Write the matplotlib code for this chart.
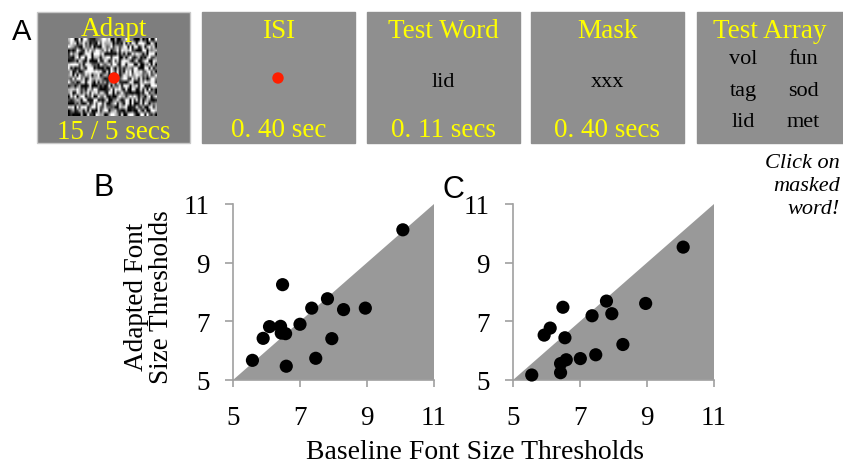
import numpy as np
import matplotlib
matplotlib.use("Agg")
import matplotlib.pyplot as plt
from matplotlib.patches import Rectangle, Circle, Polygon

plt.rcParams['font.family'] = ['Liberation Serif', 'DejaVu Serif']

# Data
baseline_b = [5.58, 5.90, 6.09, 6.42, 6.44, 6.57, 6.48, 6.59, 7.00, 7.35, 7.47, 7.82, 7.95, 8.30, 8.95, 10.07]
adapted_b = [5.67, 6.42, 6.82, 6.83, 6.60, 6.58, 8.25, 5.47, 6.90, 7.45, 5.74, 7.77, 6.41, 7.40, 7.45, 10.12]
baseline_c = [5.56, 5.93, 6.11, 6.42, 6.42, 6.49, 6.55, 6.59, 7.01, 7.36, 7.47, 7.79, 7.95, 8.28, 8.96, 10.08]
adapted_c = [5.17, 6.53, 6.77, 5.56, 5.25, 7.48, 6.44, 5.69, 5.73, 7.19, 5.86, 7.69, 7.26, 6.21, 7.61, 9.53]
axis_ticks = [5, 7, 9, 11]

# Trial sequence text
stage_titles = ["Adapt", "ISI", "Test Word", "Mask", "Test Array"]
stage_times = ["15 / 5 secs", "0. 40 sec", "0. 11 secs", "0. 40 secs"]
test_word = "lid"
mask_word = "xxx"
array_words = [["vol", "fun"], ["tag", "sod"], ["lid", "met"]]

W, H = 843, 464
fig = plt.figure(figsize=(W / 100, H / 100), dpi=100)

# Overlay axis in pixel coordinates for panel A and labels
ax_a = fig.add_axes([0, 0, 1, 1])
ax_a.axis("off")

yellow = "#ffff00"
red = "#ff1e00"
box_lefts = [37, 202, 367, 531, 697]
box_widths = [153, 153, 153, 153, 146]
for i, (x0, bw) in enumerate(zip(box_lefts, box_widths)):
    face = "#7e7e7e" if i == 0 else "#8f8f8f"
    edge = "#c8c8c8" if i == 0 else face
    ax_a.add_patch(Rectangle((x0, 13), bw, 131, facecolor=face, edgecolor=edge, lw=1))
    cx = x0 + bw / 2
    ax_a.text(cx, 36 if i == 0 else 37.5, stage_titles[i], color=yellow, fontsize=19.5,
              ha="center", va="baseline")
    if i < 4:
        ax_a.text(cx, 139 if i == 0 else 137.5, stage_times[i], color=yellow, fontsize=19.5,
                  ha="center", va="baseline")

# Adapting noise texture (visual stimulus only)
rng = np.random.default_rng(7)
noise = np.clip((rng.random((22, 42)) - 0.5) * 1.7 + 0.5, 0, 1)
ax_a.imshow(noise, cmap="gray", extent=(68, 157, 117, 39), interpolation="bilinear",
            aspect="auto", zorder=2)
ax_a.set_xlim(0, W)
ax_a.set_ylim(H, 0)

ax_a.add_patch(Circle((114, 79), 5, color=red, zorder=3))
ax_a.add_patch(Circle((278, 79), 5, color=red, zorder=3))

ax_a.text(443.5, 87, test_word, fontsize=16, ha="center", va="baseline")
ax_a.text(607.5, 87, mask_word, fontsize=16, ha="center", va="baseline")
for row, y in zip(array_words, [64.5, 96, 127]):
    ax_a.text(743, y, row[0], fontsize=16, ha="center", va="baseline")
    ax_a.text(803, y, row[1], fontsize=16, ha="center", va="baseline")

ax_a.text(840, 154, "Click on\nmasked\nword!", fontsize=16, style="italic",
          ha="right", va="top", multialignment="right", linespacing=1.3)

ax_a.text(12, 18, "A", family="Liberation Sans", fontsize=21, ha="left", va="top")
ax_a.text(93, 173, "B", family="Liberation Sans", fontsize=22, ha="left", va="top")
ax_a.text(442, 175, "C", family="Liberation Sans", fontsize=22, ha="left", va="top")

ax_a.text(475, 459, "Baseline Font Size Thresholds", fontsize=20, ha="center", va="baseline")
ax_a.text(149, 297, "Adapted Font\nSize Thresholds", fontsize=19.5, rotation=90,
          ha="center", va="center", multialignment="center", linespacing=1.0)

# Scatter panels
spine_grey = "#a0a0a0"
fill_grey = "#999999"


def draw_panel(left_px, xs, ys):
    ax = fig.add_axes([left_px / W, (H - 381) / H, 201 / W, 176 / H])
    ax.set_xlim(5, 11)
    ax.set_ylim(5, 11)
    ax.add_patch(Polygon([(5, 5), (11, 5), (11, 11)], closed=True, facecolor=fill_grey,
                         edgecolor="none", zorder=1))
    ax.scatter(xs, ys, s=90, color="black", edgecolors="none", zorder=3, clip_on=False)
    ax.set_xticks(axis_ticks)
    ax.set_yticks(axis_ticks)
    ax.patch.set_alpha(0)
    ax.spines[['right', 'top']].set_visible(False)
    for side in ['left', 'bottom']:
        ax.spines[side].set_color(spine_grey)
        ax.spines[side].set_linewidth(1.2)
    ax.tick_params(axis='x', direction='out', length=5, width=1.2, color=spine_grey,
                   labelsize=19.5, pad=13)
    ax.tick_params(axis='y', direction='out', length=6, width=1.2, color=spine_grey,
                   labelsize=19.5, pad=11)
    return ax


draw_panel(233, baseline_b, adapted_b)
draw_panel(513, baseline_c, adapted_c)

fig.savefig("out.png", dpi=100)
